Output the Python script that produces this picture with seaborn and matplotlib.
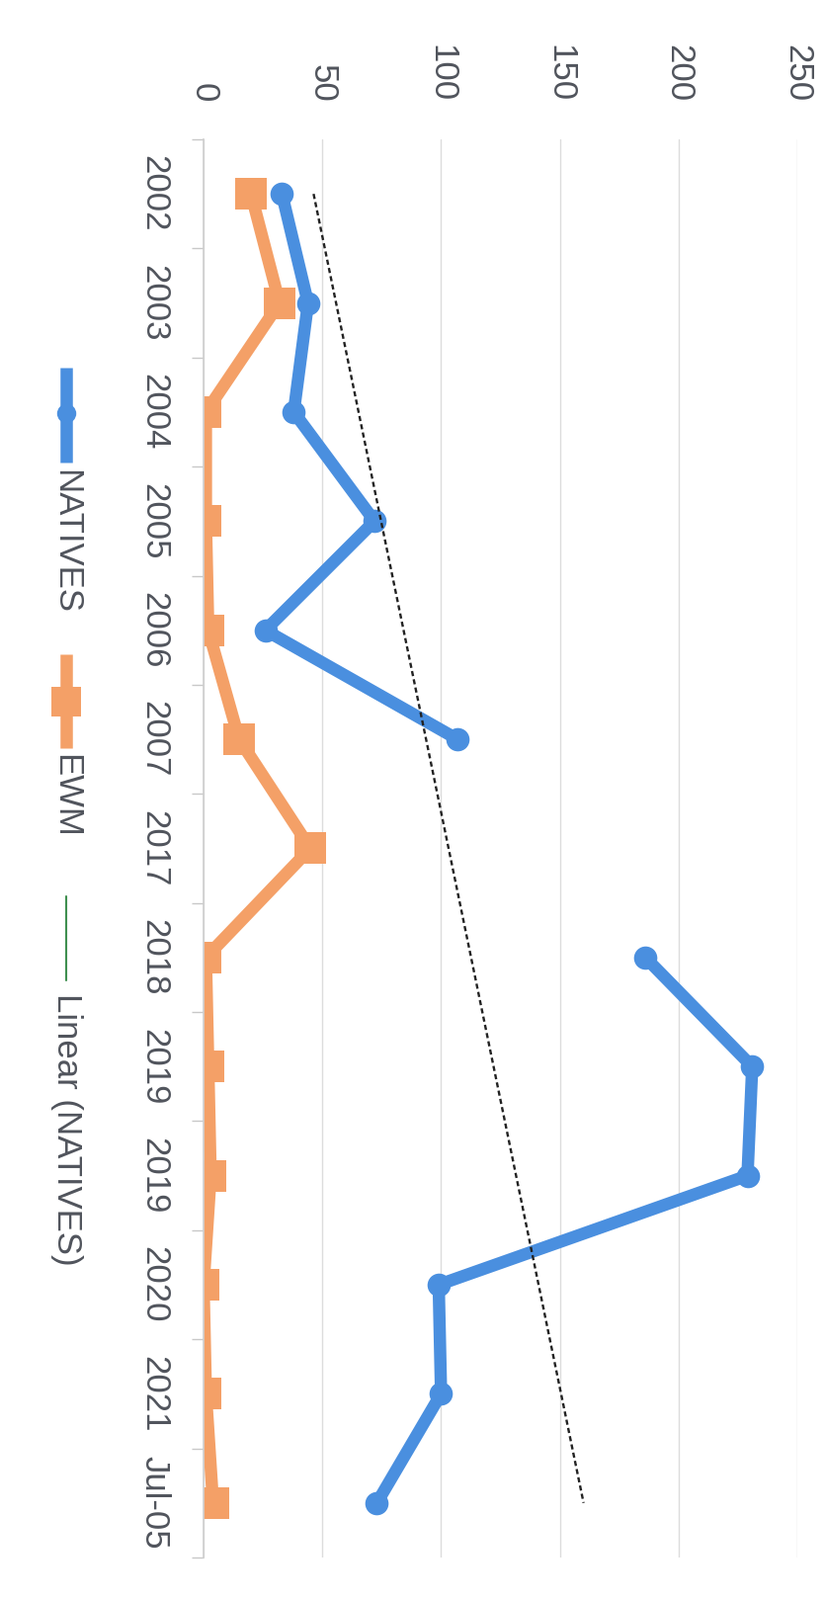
import numpy as np
import pandas as pd
import matplotlib.pyplot as plt
import seaborn as sns

# 데이터 (사진이 90도 돌아가 있음: 카테고리는 세로, 값은 가로)
categories = ['2002', '2003', '2004', '2005', '2006', '2007', '2017',
              '2018', '2019', '2019', '2020', '2021', 'Jul-05']
natives = [33, 44, 38, 72, 26, 107, np.nan, 186, 231, 229, 99, 100, 73]
ewm = [20, 32, 1, 1, 2, 15, 45, 1, 2, 3, 0, 1, 4]
value_ticks = [0, 50, 100, 150, 200, 250]
legend_labels = ['NATIVES', 'EWM', 'Linear (NATIVES)']

blue = '#4A8FDF'
orange = '#F4A067'
green = '#3F8F4F'
text_color = '#50545C'

sns.set_theme(style='white')
plt.rcParams['font.family'] = ['Liberation Sans', 'DejaVu Sans']

df = pd.DataFrame({'pos': range(len(categories)), 'cat': categories,
                   'NATIVES': natives, 'EWM': ewm})

fig = plt.figure(figsize=(8.35, 16.19), dpi=100)
ax = fig.add_axes([0.2467, 0.0266, 0.7198, 0.8863])

# NATIVES (2017 빈칸에서 선이 끊김)
nat = df.dropna(subset=['NATIVES'])
seg = (nat['pos'].diff() != 1).cumsum()
for _, part in nat.groupby(seg):
    sns.lineplot(data=part, x='NATIVES', y='pos', orient='y', sort=False,
                 estimator=None, color=blue, lw=9, marker='o',
                 markersize=17, markeredgewidth=0, ax=ax)

# EWM
sns.lineplot(data=df, x='EWM', y='pos', orient='y', sort=False,
             estimator=None, color=orange, lw=9, marker='s',
             markersize=23, markeredgewidth=0, ax=ax)

# 추세선 (Linear NATIVES)
coef = np.polyfit(nat['pos'] + 1, nat['NATIVES'], 1)
trend = np.polyval(coef, df['pos'] + 1)
sns.lineplot(x=trend, y=df['pos'], orient='y', sort=False, estimator=None,
             color='#222222', lw=1.7, linestyle=(0, (2.2, 1.4)), ax=ax)

# 축 설정
ax.set_xlim(0, 250)
ax.set_ylim(len(categories) - 0.5, -0.5)
ax.set_xticks(value_ticks)
ax.xaxis.tick_top()
ax.tick_params(axis='x', length=0, pad=27, labelsize=25,
               labelcolor=text_color, labelrotation=-90)
ax.set_yticks(range(len(categories)))
ax.set_yticklabels(categories)
ax.tick_params(axis='y', which='major', length=0, pad=24, labelsize=25,
               labelcolor=text_color, labelrotation=-90)
for lab in ax.get_yticklabels():
    lab.set_va('center')
ax.set_yticks(np.arange(-0.5, len(categories)), minor=True)
ax.tick_params(axis='y', which='minor', left=True, length=9, width=1,
               color='#c8c8c8')
ax.grid(axis='x', color='#dcdcdc', lw=1)
for s in ['top', 'right', 'bottom']:
    ax.spines[s].set_visible(False)
ax.spines['left'].set_color('#d0d0d0')
ax.set_xlabel('')
ax.set_ylabel('')

# 범례 (세로로 회전된 모양이라 직접 그림)
leg = fig.add_axes([0, 0, 1, 1])
leg.set_xlim(0, 835)
leg.set_ylim(1619, 0)
leg.axis('off')
leg.patch.set_alpha(0)
lx = 67
leg.plot([lx, lx], [372, 468], color=blue, lw=9, solid_capstyle='butt')
leg.plot([lx], [418], marker='o', color=blue, markersize=14, mew=0)
leg.plot([lx, lx], [662, 757], color=orange, lw=9, solid_capstyle='butt')
leg.plot([lx], [710], marker='s', color=orange, markersize=22, mew=0)
leg.plot([lx, lx], [907, 992], color=green, lw=1.5)
for label, ty in zip(legend_labels, [475, 763, 1005]):
    leg.text(lx, ty, label, rotation=-90, ha='center', va='top',
             fontsize=25, color=text_color)

fig.savefig('out.png', dpi=100)
